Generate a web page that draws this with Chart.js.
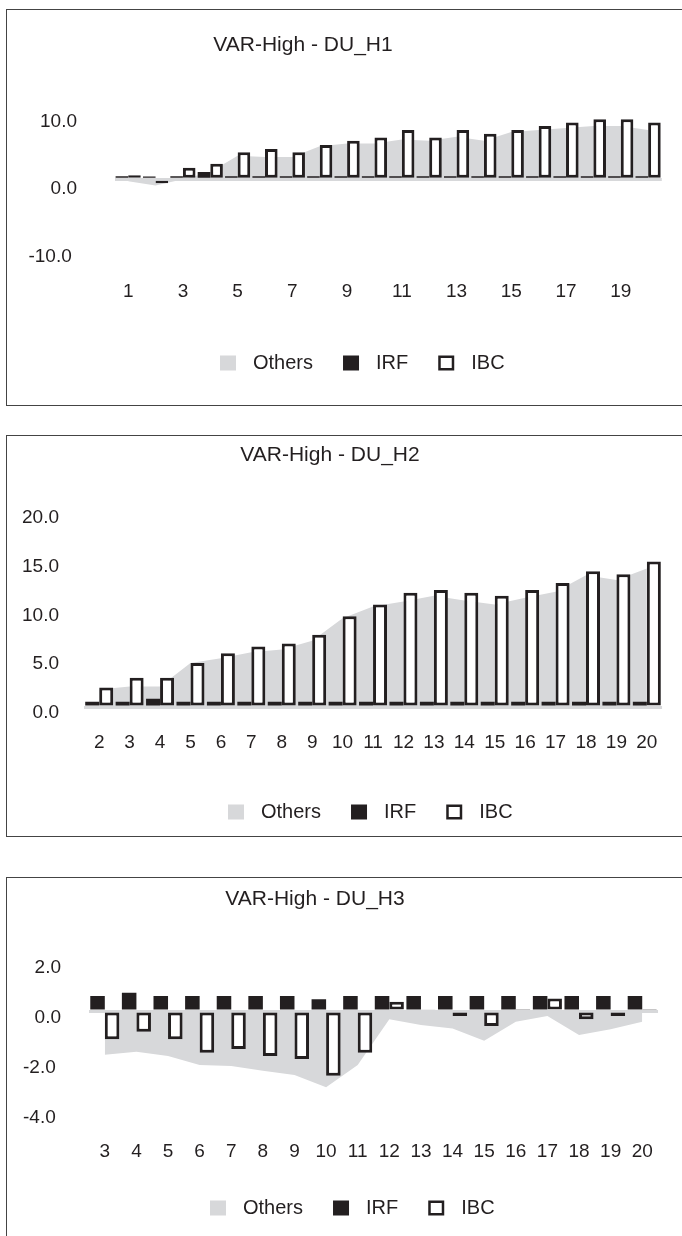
<!DOCTYPE html>
<html>
<head>
<meta charset="utf-8">
<title>VAR-High - DU</title>
<script src="https://cdn.jsdelivr.net/npm/chart.js@4.4.0/dist/chart.umd.min.js"></script>
<style>
  body { margin: 0; background: #fff; width: 682px; height: 1236px; position: relative; overflow: hidden; }
  .box { position: absolute; left: 6px; width: 720px; border: 1.5px solid #444; box-sizing: border-box; }
  canvas { position: absolute; left: 7px; }
</style>
</head>
<body>
<div class="box" style="top:9px; height:397px;"></div>
<div class="box" style="top:435px; height:402px;"></div>
<div class="box" style="top:877px; height:420px;"></div>

<canvas id="chartH1" width="675" height="394" style="top:10px"></canvas>
<canvas id="chartH2" width="675" height="399" style="top:436px"></canvas>
<canvas id="chartH3" width="675" height="358" style="top:878px"></canvas>

<script>
// --- data ---
const catsH1 = ['1','2','3','4','5','6','7','8','9','10','11','12','13','14','15','16','17','18','19','20'];
const othersH1 = [-0.3, -0.9, 0.0, 1.1, 3.5, 3.3, 3.3, 4.9, 5.3, 5.3, 5.9, 5.7, 6.3, 5.7, 7.0, 7.3, 7.6, 7.9, 7.9, 7.3];
const irfH1 = [0.45, 0.4, 0.45, 1.1, 0.45, 0.45, 0.45, 0.45, 0.45, 0.45, 0.45, 0.45, 0.45, 0.45, 0.45, 0.45, 0.45, 0.45, 0.45, 0.45];
const ibcH1 = [0.6, -0.6, 1.7, 2.3, 4.0, 4.5, 4.0, 5.1, 5.7, 6.2, 7.3, 6.2, 7.3, 6.75, 7.3, 7.9, 8.4, 8.9, 8.9, 8.4];

const catsH2 = ['2','3','4','5','6','7','8','9','10','11','12','13','14','15','16','17','18','19','20'];
const othersH2 = [1.8, 2.1, 2.1, 4.5, 5.0, 5.6, 5.9, 6.8, 9.1, 10.3, 10.8, 11.4, 10.9, 10.5, 11.2, 11.8, 13.5, 13.0, 14.2];
const irfH2 = [0.55, 0.55, 0.85, 0.55, 0.55, 0.55, 0.55, 0.55, 0.55, 0.55, 0.55, 0.55, 0.55, 0.55, 0.55, 0.55, 0.55, 0.55, 0.55];
const ibcH2 = [2.0, 3.0, 3.0, 4.5, 5.5, 6.2, 6.5, 7.4, 9.3, 10.5, 11.7, 12.0, 11.7, 11.4, 12.0, 12.7, 13.9, 13.6, 14.9];

const catsH3 = ['3','4','5','6','7','8','9','10','11','12','13','14','15','16','17','18','19','20'];
const othersH3 = [-1.75, -1.63, -1.8, -2.16, -2.2, -2.39, -2.56, -3.05, -2.16, -0.33, -0.56, -0.7, -1.19, -0.43, -0.2, -0.96, -0.73, -0.43];
const irfH3 = [0.6, 0.73, 0.6, 0.6, 0.6, 0.6, 0.6, 0.47, 0.6, 0.6, 0.6, 0.6, 0.6, 0.6, 0.6, 0.6, 0.6, 0.6];
const ibcH3 = [-1.13, -0.83, -1.13, -1.67, -1.52, -1.8, -1.92, -2.59, -1.67, 0.37, 0.07, -0.2, -0.6, 0.08, 0.5, -0.33, -0.2, 0.08];

const INK = '#231f20';
const GRAY = '#d7d8da';
const FONT = '"Liberation Sans", Arial, sans-serif';

// title + legend drawn at fixed spots (the originals are not centred on the box)
const panelText = {
    id: 'panelText',
    afterDraw(chart, args, o) {
        const ctx = chart.ctx;
        ctx.save();
        ctx.fillStyle = INK;
        ctx.textBaseline = 'middle';
        ctx.textAlign = 'center';
        ctx.font = '21px ' + FONT;
        ctx.fillText(o.title, o.titleX, o.titleY);

        ctx.font = '20px ' + FONT;
        ctx.textAlign = 'left';
        let x = o.legendX;
        const top = o.legendY - 7.5;
        chart.data.datasets.forEach((ds) => {
            ctx.fillStyle = ds.backgroundColor;
            ctx.fillRect(x, top, 16, 15);
            if (ds.borderWidth) {
                ctx.lineWidth = 2.5;
                ctx.strokeStyle = ds.borderColor;
                ctx.strokeRect(x + 1.25, top + 1.25, 13.5, 12.5);
            }
            ctx.fillStyle = INK;
            ctx.fillText(ds.label, x + 33, o.legendY);
            x += 33 + ctx.measureText(ds.label).width + 30;
        });
        ctx.restore();
    },
};

function makePanel(id, p) {
    return new Chart(document.getElementById(id), {
        type: 'bar',
        data: {
            labels: p.cats,
            datasets: [
                {
                    type: 'line', label: 'Others', data: p.others,
                    backgroundColor: GRAY, borderColor: GRAY, borderWidth: 0,
                    pointRadius: 0, fill: 'origin', tension: 0,
                },
                { label: 'IRF', data: p.irf, backgroundColor: INK, borderWidth: 0 },
                {
                    label: 'IBC', data: p.ibc, backgroundColor: '#ffffff',
                    borderColor: INK, borderWidth: 3, borderSkipped: false,
                },
            ],
        },
        plugins: [panelText],
        options: {
            responsive: false,
            animation: false,
            layout: { padding: { left: 0, top: p.chartTop, right: p.padRight, bottom: p.padBottom } },
            datasets: { bar: { categoryPercentage: 0.92, barPercentage: 1 } },
            plugins: {
                filler: { drawTime: 'beforeDatasetsDraw' }, // grey area stays behind the bars
                tooltip: { enabled: false },
                title: { display: false },
                legend: { display: false },
                panelText: {
                    title: p.title, titleX: p.titleX, titleY: p.titleY,
                    legendX: p.legendX, legendY: p.legendY,
                },
            },
            scales: {
                x: {
                    grid: { display: false, drawTicks: false },
                    border: { display: false },
                    ticks: {
                        color: INK, font: { family: FONT, size: 19 },
                        padding: p.xPad, autoSkip: false, maxRotation: 0,
                        callback: (v, i) => (i % p.labelStep === 0 ? p.cats[i] : ''),
                    },
                    afterFit: (s) => { s.height = 60; },
                },
                y: {
                    min: p.yMin, max: p.yMax,
                    grid: {
                        drawTicks: false, lineWidth: 3,
                        color: (ctx) => (ctx.tick && ctx.tick.value === 0 ? GRAY : 'rgba(0,0,0,0)'),
                    },
                    border: { display: false },
                    ticks: {
                        stepSize: p.yStep, color: INK, font: { family: FONT, size: 19 },
                        padding: p.yPad, labelOffset: p.yOff,
                        callback: (v) => (v < 0 ? v.toFixed(1) + ' ' : v.toFixed(1)),
                    },
                    afterFit: (s) => { s.width = p.chartLeft; },
                },
            },
        },
    });
}

makePanel('chartH1', {
    title: 'VAR-High - DU_H1', cats: catsH1, others: othersH1, irf: irfH1, ibc: ibcH1,
    yMin: -10, yMax: 10, yStep: 10, labelStep: 2,
    chartTop: 101.8, chartLeft: 107.5, padRight: 15, padBottom: 97.2,
    yPad: 37.5, yOff: 9.5, xPad: 33.5,
    titleX: 296, titleY: 35, legendX: 213, legendY: 353,
});

makePanel('chartH2', {
    title: 'VAR-High - DU_H2', cats: catsH2, others: othersH2, irf: irfH2, ibc: ibcH2,
    yMin: 0, yMax: 20, yStep: 5, labelStep: 1,
    chartTop: 75.8, chartLeft: 77, padRight: 3, padBottom: 68,
    yPad: 25, yOff: 6, xPad: 24.5,
    titleX: 323, titleY: 19, legendX: 221, legendY: 376,
});

makePanel('chartH3', {
    title: 'VAR-High - DU_H3', cats: catsH3, others: othersH3, irf: irfH3, ibc: ibcH3,
    yMin: -4, yMax: 2, yStep: 2, labelStep: 1,
    chartTop: 83, chartLeft: 82, padRight: 7, padBottom: 65,
    yPad: 28, yOff: 7, xPad: 29,
    titleX: 308, titleY: 21, legendX: 203, legendY: 330,
});
</script>
</body>
</html>
